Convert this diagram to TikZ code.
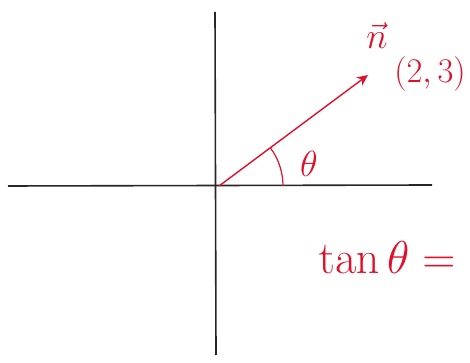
\documentclass[tikz,border=0pt]{standalone}
\usetikzlibrary{arrows.meta, positioning}
\definecolor{penred}{HTML}{E0102A}
\tikzset{
	axisline/.style={
			line width=1.6pt,
			draw=black!85
		},
	vecline/.style={
			line width=1.4pt,
			draw=penred,
			-{Stealth[length=11pt, width=10pt]}
		},
	anglearc/.style={
			line width=1.2pt,
			draw=penred
		},
	penlabel/.style={
			text=penred,
			inner sep=1pt,
			font=\LARGE
		}
}
\begin{document}
\begin{tikzpicture}[x=1pt, y=1pt]
\useasboundingbox (0,0) rectangle (470,363);
\coordinate (o) at (219,177);
\coordinate (xl) at (8,177);
\coordinate (xr) at (432,178);
\coordinate (yt) at (215,351);
\coordinate (yb) at (216,8);
\coordinate (tip) at (368,288);

\draw[axisline] (xl) -- (xr);
\draw[axisline] (yb) -- (yt);

\draw[vecline] (o) -- (tip);
\draw[anglearc] ([xshift=64pt]o) arc[start angle=0, end angle=36.7, radius=64pt];

\node[penlabel, scale=2.1] (nvec) at (377,327) {$\vec{n}$};
\node[penlabel, scale=2] (pt) at (430,289) {$(2,3)$};
\node[penlabel, scale=2.1] (th) at (309,199) {$\theta$};
\node[penlabel, font=\Huge, scale=1.85] (tan) at (387,105) {$\tan\theta=$};
\end{tikzpicture}
\end{document}
